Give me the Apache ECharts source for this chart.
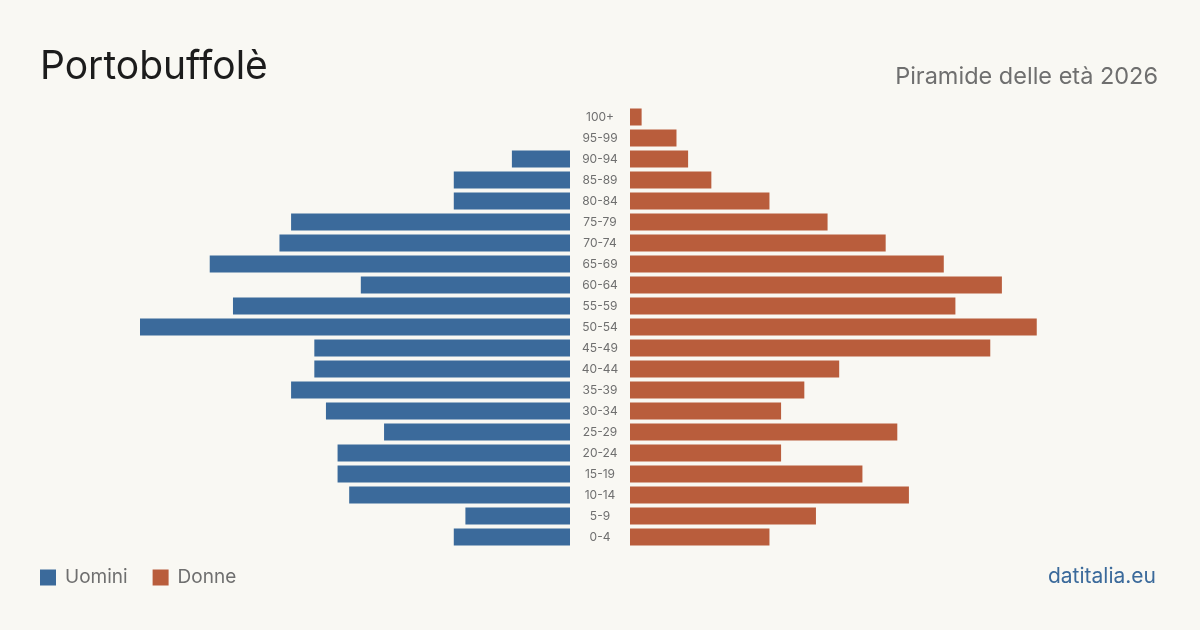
<!DOCTYPE html>
<html lang="it">

<head>
    <meta charset="UTF-8">
    <title>Portobuffolè - Piramide delle età 2026</title>
    <script src="https://cdn.jsdelivr.net/npm/echarts@6/dist/echarts.min.js"></script>
    <style>
        html, body { margin: 0; padding: 0; background: #f9f8f3; }
        #chart { width: 1200px; height: 630px; }
    </style>
</head>

<body>
    <div id="chart"></div>
    <script type="text/javascript">
        // Age classes, bottom to top
        const ageClasses = ['0-4', '5-9', '10-14', '15-19', '20-24', '25-29', '30-34', '35-39', '40-44', '45-49',
            '50-54', '55-59', '60-64', '65-69', '70-74', '75-79', '80-84', '85-89', '90-94', '95-99', '100+'];
        const uomini = [10, 9, 19, 20, 20, 16, 21, 24, 22, 22, 37, 29, 18, 31, 25, 24, 10, 10, 5, 0, 0];
        const donne = [12, 16, 24, 20, 13, 23, 13, 15, 18, 31, 35, 28, 32, 27, 22, 17, 12, 7, 5, 4, 1];

        const BLUE = '#3b6a9b';
        const ORANGE = '#b95d3c';
        const FONT = 'Inter, "Noto Sans", sans-serif';
        const maxVal = 37;

        const chart = echarts.init(document.getElementById('chart'));

        const option = {
            backgroundColor: '#f9f8f3',
            textStyle: { fontFamily: FONT },
            animation: false,
            title: [
                {
                    text: 'Portobuffolè',
                    left: 35, top: 43,
                    textStyle: { fontFamily: FONT, fontSize: 39, fontWeight: 'normal', color: '#1c1c1c' }
                },
                {
                    text: 'Piramide delle età 2026',
                    right: 37, top: 60,
                    textStyle: { fontFamily: FONT, fontSize: 23.5, fontWeight: 'normal', color: '#6f6f6f' }
                },
                {
                    text: 'datitalia.eu',
                    right: 39, top: 561,
                    textStyle: { fontFamily: FONT, fontSize: 21, fontWeight: 'normal', color: BLUE }
                }
            ],
            legend: {
                left: 40, top: 568, padding: 0,
                icon: 'rect',
                itemWidth: 16, itemHeight: 16,
                itemGap: 25,
                textStyle: { fontFamily: FONT, fontSize: 19, color: '#6f6f6f', padding: [0, 0, 0, 4] },
                data: ['Uomini', 'Donne']
            },
            grid: [
                { left: 140, width: 430, top: 106.5, height: 441 },
                { left: 630, width: 430, top: 106.5, height: 441 }
            ],
            xAxis: [
                { type: 'value', gridIndex: 0, inverse: true, min: 0, max: maxVal, show: false },
                { type: 'value', gridIndex: 1, min: 0, max: maxVal, show: false }
            ],
            yAxis: [
                {
                    type: 'category', gridIndex: 0, data: ageClasses,
                    axisLine: { show: false }, axisTick: { show: false }, axisLabel: { show: false }
                },
                {
                    type: 'category', gridIndex: 1, data: ageClasses, position: 'left',
                    axisLine: { show: false }, axisTick: { show: false },
                    axisLabel: { align: 'center', margin: 30, fontSize: 12, color: '#6f6f6f', fontFamily: FONT }
                }
            ],
            series: [
                {
                    name: 'Uomini', type: 'bar', xAxisIndex: 0, yAxisIndex: 0,
                    data: uomini, barWidth: 17, itemStyle: { color: BLUE }
                },
                {
                    name: 'Donne', type: 'bar', xAxisIndex: 1, yAxisIndex: 1,
                    data: donne, barWidth: 17, itemStyle: { color: ORANGE }
                }
            ]
        };

        chart.setOption(option);
    </script>
</body>

</html>
